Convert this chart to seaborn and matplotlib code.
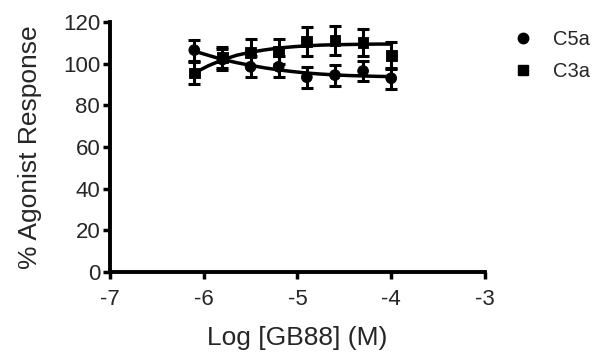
import matplotlib
matplotlib.use("Agg")
import matplotlib.pyplot as plt
import numpy as np
import pandas as pd
import seaborn as sns
from matplotlib.lines import Line2D

# ---------- data ----------
log_dose = [-6.1, -5.8, -5.5, -5.2, -4.9, -4.6, -4.3, -4.0]
c5a_mean = [106.5, 102.0, 98.5, 98.5, 93.5, 94.5, 96.5, 93.0]
c5a_err = [5.0, 5.0, 5.0, 5.0, 5.0, 5.0, 5.0, 5.0]
c3a_mean = [95.5, 103.0, 105.5, 106.0, 110.5, 111.0, 110.0, 104.0]
c3a_err = [5.5, 5.0, 6.5, 6.0, 7.0, 7.0, 6.5, 6.5]

# fitted curves
curve_x = [-6.1, -5.95, -5.8, -5.65, -5.5, -5.35, -5.2, -5.05,
           -4.9, -4.75, -4.6, -4.45, -4.3, -4.15, -4.0]
c5a_fit = [106.0, 104.0, 102.0, 100.5, 99.2, 98.0, 97.0, 96.2,
           95.5, 95.0, 94.6, 94.3, 94.1, 93.9, 93.8]
c3a_fit = [95.5, 99.0, 101.8, 104.0, 105.5, 106.6, 107.5, 108.1,
           108.6, 108.9, 109.1, 109.2, 109.3, 109.4, 109.4]

series = ["C5a", "C3a"]
markers = {"C5a": "o", "C3a": "s"}

sns.set_style("ticks")
plt.rcParams["font.family"] = ["Liberation Sans", "DejaVu Sans"]

pts = pd.DataFrame({
    "x": log_dose * 2,
    "y": c5a_mean + c3a_mean,
    "err": c5a_err + c3a_err,
    "agonist": ["C5a"] * 8 + ["C3a"] * 8,
})
fit = pd.DataFrame({
    "x": curve_x * 2,
    "y": c5a_fit + c3a_fit,
    "agonist": ["C5a"] * len(curve_x) + ["C3a"] * len(curve_x),
})

fig = plt.figure(figsize=(5.94, 3.53), dpi=100)
ax = fig.add_axes([0.185, 0.2295, 0.6315, 0.7082])

sns.lineplot(data=fit, x="x", y="y", units="agonist", estimator=None,
             color="black", lw=2.5, ax=ax, legend=False)
for name in series:
    d = pts[pts["agonist"] == name]
    ax.errorbar(d["x"], d["y"], yerr=d["err"], fmt="none", ecolor="black",
                elinewidth=2.2, capsize=4.5, capthick=2.2, zorder=3)
sns.scatterplot(data=pts, x="x", y="y", style="agonist", markers=markers,
                color="black", s=60, edgecolor="black", ax=ax, legend=False,
                zorder=4)

ax.set_xlim(-7, -3)
ax.set_ylim(0, 120)
ax.set_xticks([-7, -6, -5, -4, -3])
ax.set_xticklabels(["-7", "-6", "-5", "-4", "-3"])
ax.set_yticks(range(0, 121, 20))
ax.set_xlabel("Log [GB88] (M)", fontsize=19, labelpad=12)
ax.set_ylabel("% Agonist Response", fontsize=19, labelpad=15)
ax.tick_params(labelsize=16, width=2.5, length=5, color="black")
ax.tick_params(axis="x", pad=7)
ax.tick_params(axis="y", pad=2)
sns.despine(ax=ax)
for s in ["left", "bottom"]:
    ax.spines[s].set_linewidth(2.8)
    ax.spines[s].set_color("black")

handles = [Line2D([], [], ls="none", marker=markers[n], color="black",
                  markersize=7.5 if n == "C5a" else 6.5) for n in series]
fig.legend(handles, series, loc="upper left", bbox_to_anchor=(0.850, 0.937),
           frameon=False, fontsize=14.5, handlelength=1.0, handletextpad=1.0,
           labelspacing=0.62, borderaxespad=0)

fig.savefig("out.png", dpi=100, facecolor="white")
